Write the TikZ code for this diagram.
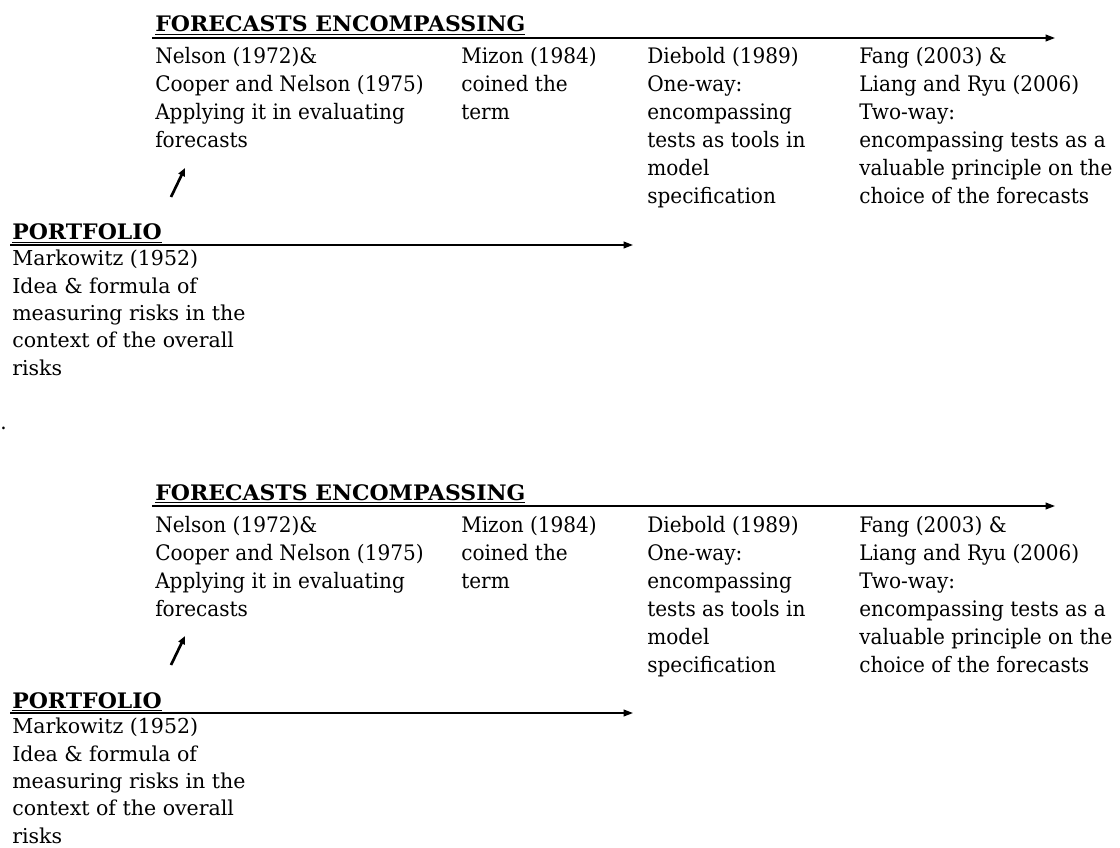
\documentclass[tikz,border=0pt]{standalone}
\usepackage{fontspec}
\setmainfont{DejaVu Serif}
\newfontfamily\headfont[FakeStretch=1.03]{DejaVu Serif}
\newfontfamily\colfont[FakeStretch=0.94]{DejaVu Serif}
\usetikzlibrary{arrows.meta,positioning}

\begin{document}
\begin{tikzpicture}[x=0.75pt,y=-0.75pt,% one unit = one pixel of the reference
		every node/.style={
			align=left,		% lines broken with "\\"
			inner sep=0pt,
			anchor=base west,	% base = baseline of the LAST line
			font=\colfont\fontsize{16}{21}\selectfont
		},
		heading/.style={font=\headfont\bfseries\fontsize{16}{21}\selectfont},
		body/.style={font=\fontsize{15.4}{20.5}\selectfont},
		timeline/.style={draw,line width=1.3pt,-{Triangle[length=7pt,width=5pt]}},
		link/.style={draw,line width=2pt,-{Triangle[length=6pt,width=5pt]}}
	]
	\useasboundingbox (0,0) rectangle (1120,848);
	\foreach \dy/\k in {0/a,468/b}{
		\begin{scope}[shift={(0,\dy)}]
			% forecasts encompassing
			\node[heading](fe\k) at (155,32) {\underline{FORECASTS ENCOMPASSING}};
			\coordinate (fes\k) at (152,38);
			\coordinate (fee\k) at (1055,38);
			\node(nelson\k) at (155,148) {Nelson (1972)\&\\Cooper and Nelson (1975)\\Applying it in evaluating\\forecasts};
			\node(mizon\k) at (461,120) {Mizon (1984)\\coined the\\term};
			\node(diebold\k) at (647,204) {Diebold (1989)\\One-way:\\encompassing\\tests as tools in\\model\\specification};
			\node(fang\k) at (859,204) {Fang (2003) \&\\Liang and Ryu (2006)\\Two-way:\\encompassing tests as a\\valuable principle on the\\choice of the forecasts};
			% portfolio
			\node[heading](pf\k) at (12,240) {\underline{PORTFOLIO}};
			\coordinate (pfs\k) at (10,245);
			\coordinate (pfe\k) at (633,245);
			\node[body](markowitz\k) at (12,375) {Markowitz (1952)\\Idea \& formula of\\measuring risks in the\\context of the overall\\risks};
			% arrow from portfolio up to forecasts encompassing
			\coordinate (lt\k) at (171,197);
			\coordinate (lh\k) at (185,168);
			\path[timeline] (fes\k) -- (fee\k);
			\path[timeline] (pfs\k) -- (pfe\k);
			\path[link] (lt\k) -- (lh\k);
		\end{scope}
	}
	\node(dot) at (0,429) {.};
\end{tikzpicture}
\end{document}
